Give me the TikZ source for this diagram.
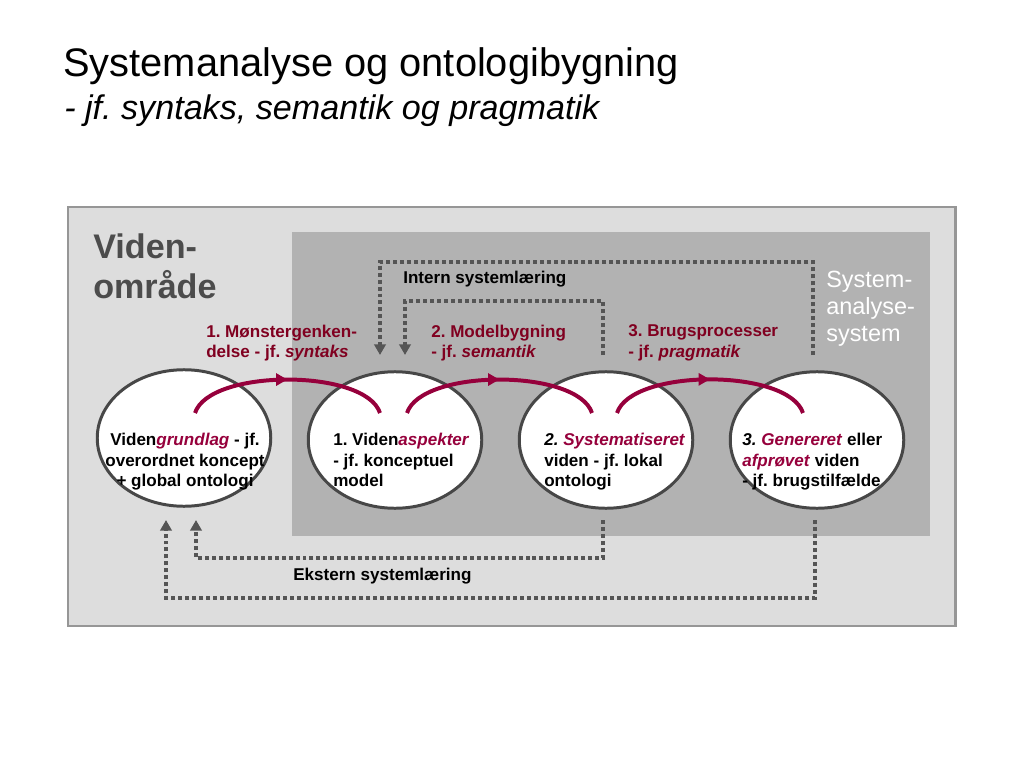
\documentclass[tikz,border=0pt]{standalone}
\usepackage{fontspec}
\setmainfont{Liberation Sans}
\frenchspacing
\usetikzlibrary{positioning,calc,shapes.geometric,arrows.meta,decorations.markings}
\definecolor{AreaGray}{RGB}{221,221,221}
\definecolor{SysGray}{RGB}{178,178,178}
\definecolor{FrameGray}{RGB}{150,150,150}
\definecolor{DotGray}{RGB}{85,85,85}
\definecolor{LabRed}{RGB}{128,0,32}
\definecolor{ArcRed}{RGB}{150,0,60}

\begin{document}
\begin{tikzpicture}[x=0.703125pt,y=-0.703125pt]
					\tikzset{
						v/.style={ellipse, draw=black!72, line width=2.1pt, fill=white,
							minimum width=122pt, minimum height=96pt, inner sep=0pt},
						e/.style={draw=ArcRed, line width=2.8pt, postaction={decorate},
							decoration={markings, mark=at position 0.5 with {\arrow[ArcRed]{Triangle[width=8.4pt,length=8pt]}}}},
						w/.style={font=\fontsize{12}{14.4}\selectfont\bfseries, inner sep=0pt, align=left},
						rl/.style={w, text=LabRed, anchor=west},
						dl/.style={draw=DotGray, line width=2.8pt, dash pattern=on 2.8pt off 2.1pt,
							-{Triangle[width=8pt,length=7.5pt]}}
					}
					\useasboundingbox (0,0) rectangle (1024,768);
					\fill[AreaGray, draw=FrameGray, line width=2.1pt] (68,207) rectangle (955,626);
					\fill[SysGray] (292,232) rectangle (930,536);
					
					\node[anchor=base west, inner sep=0pt, font=\fontsize{28}{34}\selectfont] (title) at (63,77) {Systemanalyse og ontologibygning};
					\node[anchor=base west, inner sep=0pt, font=\fontsize{24}{29}\selectfont\itshape] (subtitle) at (64,120) {- jf. syntaks, semantik og pragmatik};
					
					\node[anchor=west, align=left, inner sep=0pt, text=black!70,
						font=\fontsize{24}{28}\selectfont\bfseries] (omr) at (93,266) {Viden-\\område};
					\node[anchor=west, align=left, inner sep=0pt, text=white,
						font=\fontsize{16.5}{19}\selectfont] (sys) at (826,309) {System-\\analyse-\\system};
					
					\node[rl] (p1) at (206,343) {1. Mønstergenken-\\delse - jf. \textit{syntaks}};
					\node[rl] (p2) at (431,343) {2. Modelbygning\\- jf. \textit{semantik}};
					\node[rl] (p3) at (628,343) {3. Brugsprocesser\\- jf. \textit{pragmatik}};
					
					\node[v] (e1) at (184,438) {};
					\node[v] (e2) at (395,440) {};
					\node[v] (e3) at (606,440) {};
					\node[v] (e4) at (817,440) {};
					
					\node[w, align=center] (t1) at (185,462) {Viden\textcolor{ArcRed}{\textit{grundlag}} - jf.\\overordnet koncept\\+ global ontologi};
					\node[w, anchor=west] (t2) at (333,460) {1. Viden\textcolor{ArcRed}{\textit{aspekter}}\\- jf. konceptuel\\model};
					\node[w, anchor=west] (t3) at (544,462) {\textit{2.} \textcolor{ArcRed}{\textit{Systematiseret}}\\viden - jf. lokal\\ontologi};
					\node[w, anchor=west] (t4) at (742,462) {\textit{3.} \textcolor{ArcRed}{\textit{Genereret}} eller\\\textcolor{ArcRed}{\textit{afprøvet}} viden\\- jf. brugstilfælde};
					
					% red transitions between the ellipses
					\coordinate (a1) at (195,413); \coordinate (b2) at (380,413);
					\coordinate (a2) at (407,413); \coordinate (b3) at (592,413);
					\coordinate (a3) at (617,413); \coordinate (b4) at (803,413);
					\draw[e] (a1) to[out=72, in=108, looseness=0.65] (b2);
					\draw[e] (a2) to[out=72, in=108, looseness=0.65] (b3);
					\draw[e] (a3) to[out=72, in=108, looseness=0.65] (b4);
					
					% intern / ekstern loops
					\coordinate (it4) at (813,355); \coordinate (it3) at (603,355);
					\coordinate (iu2) at (380,355); \coordinate (iv2) at (405,355);
					\coordinate (et4) at (815,520); \coordinate (et3) at (603,520);
					\coordinate (eu1) at (166,520); \coordinate (ev1) at (196,520);
					\draw[dl] (it4) -- ++(0,-93) -| (iu2);
					\draw[dl] (it3) -- ++(0,-54) -| (iv2);
					\draw[dl] (et3) -- ++(0,38) -| (ev1);
					\draw[dl] (et4) -- ++(0,78) -| (eu1);
					
					\node[w, anchor=base west] (intern) at (403,283) {Intern systemlæring};
					\node[w, anchor=base west] (ekstern) at (293,580) {Ekstern systemlæring};
				\end{tikzpicture}
\end{document}
